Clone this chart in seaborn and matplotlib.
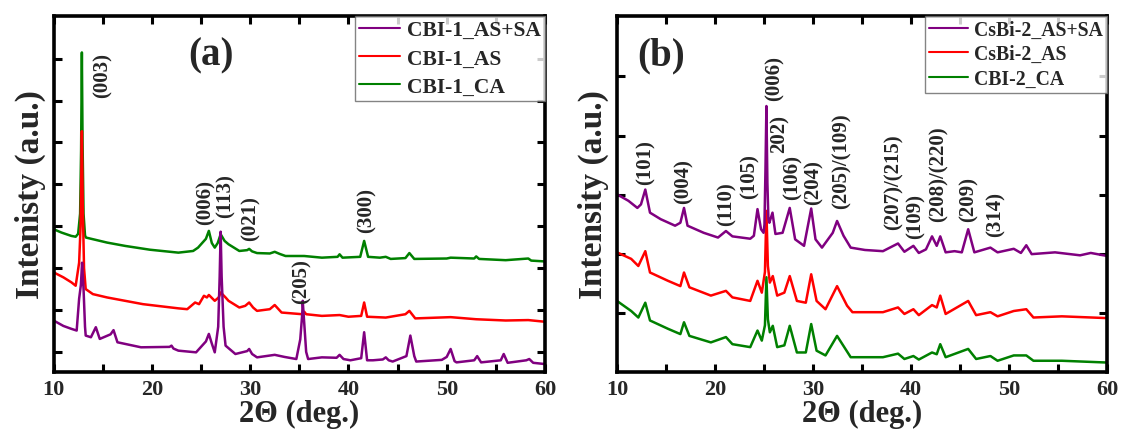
import numpy as np
import pandas as pd
import matplotlib
matplotlib.use("Agg")
import matplotlib.pyplot as plt
import seaborn as sns
from matplotlib.ticker import MultipleLocator

# ---------------- data ----------------
# Panel (a)
a_ca_x = [10.0, 10.8, 11.8, 12.25, 12.5, 12.7, 12.8, 12.88, 12.95, 13.05, 13.2, 13.3, 15.45, 17.3, 19.8,
          22.7, 24.2, 24.7, 25.5, 25.8, 26.1, 26.4, 26.7, 27.0, 27.4, 27.8, 28.9, 29.7, 29.9, 30.2,
          30.7, 32.0, 32.5, 33.0, 33.6, 35.5, 37.3, 38.9, 39.1, 39.4, 41.2, 41.6, 42.0, 43.2, 43.8,
          44.3, 45.8, 46.2, 46.7, 50.0, 50.4, 52.8, 53.0, 53.3, 56.0, 58.3, 58.6, 60.0]
a_ca_y = [2.93, 2.85, 2.77, 2.75, 2.82, 3.3, 4.8, 7.15, 5.0, 3.3, 2.78, 2.73, 2.61, 2.53, 2.44,
          2.37, 2.41, 2.49, 2.7, 2.89, 2.6, 2.49, 2.6, 2.81, 2.65, 2.57, 2.41, 2.43, 2.46, 2.40,
          2.36, 2.35, 2.39, 2.34, 2.29, 2.29, 2.25, 2.27, 2.33, 2.25, 2.27, 2.65, 2.27, 2.25, 2.27,
          2.22, 2.24, 2.36, 2.22, 2.23, 2.25, 2.23, 2.28, 2.22, 2.19, 2.23, 2.18, 2.16]

a_as_x = [10.0, 11.0, 11.82, 12.25, 12.6, 12.75, 12.88, 12.97, 13.1, 13.27, 14.0, 15.45, 19.1, 22.7,
          23.6, 24.4, 24.8, 25.3, 25.6, 25.8, 26.4, 26.8, 27.0, 27.5, 27.8, 28.9, 29.5, 29.9, 30.3,
          30.7, 32.0, 32.5, 33.2, 35.3, 35.5, 35.7, 37.3, 39.1, 40.0, 41.3, 41.6, 41.9, 43.8, 45.8,
          46.2, 46.8, 50.4, 53.0, 56.0, 58.3, 60.0]
a_as_y = [1.90, 1.78, 1.66, 1.58, 2.13, 3.0, 5.27, 3.5, 2.0, 1.50, 1.38, 1.30, 1.14, 1.04,
          1.02, 1.18, 1.14, 1.34, 1.30, 1.36, 1.22, 1.30, 1.42, 1.30, 1.22, 1.06, 1.10, 1.18, 1.06,
          0.98, 1.02, 1.12, 0.94, 0.90, 0.96, 0.90, 0.86, 0.88, 0.84, 0.86, 1.18, 0.84, 0.82, 0.90,
          0.98, 0.80, 0.83, 0.78, 0.75, 0.76, 0.72]

a_assa_x = [10.0, 11.0, 11.82, 12.35, 12.6, 12.78, 12.9, 13.05, 13.2, 13.27, 13.8, 14.3, 14.7, 15.8,
            16.1, 16.5, 18.9, 21.8, 22.0, 22.2, 22.7, 24.5, 25.5, 25.8, 26.1, 26.4, 26.75, 26.9,
            27.0, 27.1, 27.3, 27.5, 28.5, 29.7, 29.9, 30.2, 30.7, 32.5, 33.5, 34.7, 35.1, 35.3,
            35.35, 35.5, 35.7, 35.9, 37.3, 38.8, 39.1, 39.5, 40.2, 41.3, 41.6, 41.9, 42.5, 43.5,
            43.8, 44.1, 44.5, 45.9, 46.3, 46.7, 46.9, 49.5, 50.0, 50.4, 50.8, 51.0, 52.8, 53.1,
            53.5, 55.5, 55.8, 56.2, 58.1, 58.4, 58.8, 60.0]
a_assa_y = [0.75, 0.62, 0.55, 0.51, 1.27, 1.6, 2.13, 1.5, 0.6, 0.39, 0.35, 0.59, 0.31, 0.42,
            0.52, 0.23, 0.11, 0.12, 0.15, 0.08, 0.03, -0.01, 0.25, 0.43, 0.2, -0.01, 0.6, 1.8,
            2.87, 1.8, 0.6, 0.15, -0.05, 0.02, 0.07, -0.05, -0.13, -0.07, -0.12, -0.17, 0.3, 0.9,
            1.22, 0.7, 0.0, -0.17, -0.13, -0.14, -0.07, -0.17, -0.2, -0.15, 0.47, -0.2, -0.2, -0.18,
            -0.13, -0.2, -0.23, -0.1, 0.39, -0.1, -0.23, -0.19, -0.12, 0.07, -0.22, -0.25, -0.2, -0.1,
            -0.25, -0.2, -0.05, -0.26, -0.2, -0.17, -0.26, -0.29]

# Panel (b)
b_assa_x = [10.0, 11.17, 12.08, 12.45, 12.89, 13.37, 14.46, 15.93, 16.47, 16.84, 17.2, 18.85, 20.31,
            21.12, 21.78, 23.6, 23.97, 24.34, 24.7, 24.96, 25.05, 25.15, 25.25, 25.35, 25.45, 25.55,
            25.87, 26.17, 26.9, 27.63, 28.18, 29.09, 29.82, 30.26, 30.92, 32.02, 32.46, 33.12,
            33.85, 35.31, 37.14, 38.68, 39.33, 40.25, 40.8, 41.53, 42.15, 42.63, 42.99, 43.54,
            44.45, 45.19, 45.84, 46.47, 48.11, 48.84, 50.49, 51.22, 51.77, 52.32, 54.7, 57.26,
            58.35, 60.0]
b_assa_y = [2.01, 1.90, 1.78, 1.84, 2.09, 1.70, 1.59, 1.48, 1.53, 1.78, 1.48, 1.36, 1.28,
            1.39, 1.30, 1.26, 1.31, 1.76, 1.42, 1.36, 1.5, 2.4, 3.50, 2.2, 1.6, 1.53,
            1.70, 1.34, 1.36, 1.78, 1.25, 1.14, 1.77, 1.25, 1.11, 1.36, 1.56, 1.31,
            1.11, 1.07, 1.05, 1.18, 1.04, 1.14, 1.02, 1.08, 1.30, 1.14, 1.30, 1.03,
            1.05, 1.03, 1.42, 1.03, 1.11, 1.03, 1.09, 1.02, 1.15, 1.00, 1.03, 0.98,
            1.02, 0.97]

b_as_x = [10.0, 11.45, 12.18, 12.89, 13.37, 15.2, 16.47, 16.84, 17.39, 19.58, 21.12, 21.78, 23.6,
          24.34, 24.78, 25.1, 25.25, 25.4, 25.6, 25.9, 26.35, 27.08, 27.63, 28.36, 29.27, 29.82,
          30.37, 31.28, 32.46, 33.48, 34.03, 37.14, 38.68, 39.33, 40.25, 40.8, 42.15, 42.63,
          42.99, 43.54, 45.84, 46.65, 48.11, 48.84, 50.49, 51.77, 52.5, 55.4, 60.0]
b_as_y = [1.03, 0.92, 0.80, 1.05, 0.69, 0.55, 0.46, 0.69, 0.44, 0.30, 0.38, 0.27, 0.21,
          0.55, 0.35, 0.7, 1.73, 0.8, 0.52, 0.63, 0.30, 0.35, 0.63, 0.21, 0.18, 0.66,
          0.21, 0.07, 0.46, 0.13, 0.02, 0.02, 0.10, -0.01, 0.07, -0.03, 0.14, 0.10,
          0.30, -0.01, 0.21, -0.03, 0.02, -0.05, 0.04, 0.07, -0.07, -0.05, -0.08]

b_ca_x = [10.0, 11.45, 12.18, 12.89, 13.37, 15.2, 16.47, 16.84, 17.39, 19.58, 21.12, 21.78, 23.6,
          24.34, 24.78, 25.1, 25.25, 25.4, 25.6, 25.9, 26.35, 27.08, 27.63, 28.36, 29.27, 29.82,
          30.37, 31.28, 32.46, 33.85, 37.14, 38.68, 39.33, 40.25, 40.8, 42.15, 42.63, 42.99,
          43.54, 45.84, 46.65, 48.11, 48.84, 50.49, 51.77, 52.5, 55.4, 60.0]
b_ca_y = [0.21, 0.04, -0.07, 0.18, -0.12, -0.26, -0.35, -0.15, -0.38, -0.49, -0.40, -0.52, -0.57,
          -0.29, -0.46, -0.2, 0.61, -0.1, -0.32, -0.21, -0.57, -0.54, -0.21, -0.66, -0.66, -0.18,
          -0.63, -0.71, -0.38, -0.74, -0.74, -0.68, -0.77, -0.72, -0.78, -0.66, -0.69, -0.52,
          -0.74, -0.60, -0.77, -0.72, -0.80, -0.71, -0.71, -0.80, -0.80, -0.83]

a_labels = ["CBI-1_AS+SA", "CBI-1_AS", "CBI-1_CA"]
b_labels = ["CsBi-2_AS+SA", "CsBi-2_AS", "CBI-2_CA"]
colors = ["#800080", "#ff0000", "#008000"]

a_peaks = ["(003)", "(006)", "(113)", "(021)", "(205)", "(300)"]
a_peak_x = [14.98, 25.45, 27.53, 30.0, 35.2, 41.8]
a_peak_y = [6.62, 3.59, 3.75, 3.21, 1.70, 3.39]

b_peaks = ["(101)", "(004)", "(110)", "(105)", "(006)", "202)", "(106)", "(204)", "(205)/(109)",
           "(207)/(215)", "(109)", "(208)/(220)", "(209)", "(314)"]
b_peak_x = [12.9, 16.77, 21.16, 23.5, 26.06, 26.6, 27.9, 30.08, 32.9, 38.2, 40.5, 42.8, 45.85, 48.6]
b_peak_y = [2.57, 2.25, 1.86, 2.33, 3.99, 3.04, 2.31, 2.22, 2.59, 2.23, 1.66, 2.36, 1.94, 1.69]

# ---------------- style ----------------
sns.set_theme(style="ticks")
plt.rcParams["font.family"] = ["Liberation Serif", "DejaVu Serif"]
plt.rcParams["font.weight"] = "bold"

fig = plt.figure(figsize=(11.23, 4.39), dpi=100)
ax_a = fig.add_axes([0.0477, 0.1503, 0.4376, 0.811])
ax_b = fig.add_axes([0.5494, 0.1503, 0.4363, 0.811])


def build(xs, ys, labels):
    frames = []
    for x, y, lab in zip(xs, ys, labels):
        frames.append(pd.DataFrame({"theta": x, "intensity": y, "sample": lab}))
    return pd.concat(frames, ignore_index=True)


df_a = build([a_assa_x, a_as_x, a_ca_x], [a_assa_y, a_as_y, a_ca_y], a_labels)
df_b = build([b_assa_x, b_as_x, b_ca_x], [b_assa_y, b_as_y, b_ca_y], b_labels)


def draw(ax, df, labels, ylim, yticks, legend_fs, handlelen, lspace):
    order = labels[::-1]  # draw CA first, AS+SA on top
    pal = dict(zip(labels, colors))
    sns.lineplot(data=df, x="theta", y="intensity", hue="sample", hue_order=order,
                 palette=pal, estimator=None, sort=False, linewidth=1.8, ax=ax)
    h, l = ax.get_legend_handles_labels()
    hd = dict(zip(l, h))
    leg = ax.legend([hd[k] for k in labels], labels, loc="upper right", borderaxespad=0.0,
                    fancybox=False, frameon=True, edgecolor="#666666",
                    prop={"family": "Liberation Serif", "weight": "bold", "size": legend_fs},
                    handlelength=handlelen, handletextpad=0.3, labelspacing=lspace, borderpad=0.2)
    leg.get_frame().set_linewidth(1.0)
    for line in leg.get_lines():
        line.set_linewidth(1.5)
    ax.set_xlim(10, 60)
    ax.set_ylim(*ylim)
    ax.set_yticks(yticks)
    ax.set_yticklabels([])
    ax.xaxis.set_major_locator(MultipleLocator(10))
    ax.xaxis.set_minor_locator(MultipleLocator(5))
    ax.tick_params(axis="both", which="both", direction="in", top=True, right=True,
                   width=2.2, length=6, color="black")
    ax.tick_params(axis="x", which="major", labelsize=16, pad=5)
    for t in ax.get_xticklabels():
        t.set_fontweight("bold")
    for s in ax.spines.values():
        s.set_linewidth(2.6)
        s.set_color("black")
    ax.set_xlabel("2Θ (deg.)", fontsize=22, fontweight="bold", labelpad=0)


draw(ax_a, df_a, a_labels, (-0.48, 8.02), [0, 1, 2, 3, 4, 5, 6, 7], 15.5, 1.9, 0.38)
draw(ax_b, df_b, b_labels, (-0.99, 5.02), [0, 1, 2, 3, 4], 14.2, 2.0, 0.22)

ax_a.set_ylabel("Intenisty (a.u.)", fontsize=24, fontweight="bold", labelpad=2)
ax_b.set_ylabel("Intensity (a.u.)", fontsize=24, fontweight="bold", labelpad=2)

for t, x, y in zip(a_peaks, a_peak_x, a_peak_y):
    ax_a.text(x, y, t, rotation=90, ha="center", va="center", fontsize=15, fontweight="bold")
for t, x, y in zip(b_peaks, b_peak_x, b_peak_y):
    ax_b.text(x, y, t, rotation=90, ha="center", va="center", fontsize=15, fontweight="bold")

ax_a.text(26.0, 7.1, "(a)", ha="center", va="center", fontsize=28, fontweight="bold")
ax_b.text(14.5, 4.37, "(b)", ha="center", va="center", fontsize=28, fontweight="bold")

fig.savefig("out.png", dpi=100)
